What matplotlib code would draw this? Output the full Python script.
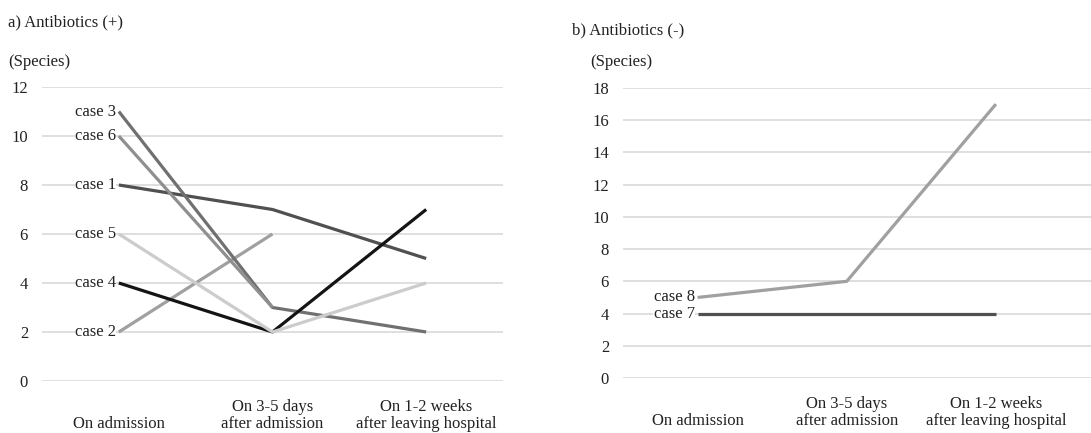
import numpy as np
import matplotlib.pyplot as plt

plt.rcParams['font.family'] = ['Liberation Serif', 'DejaVu Serif']

# categories / tick labels
stages = ['\nOn admission', 'On 3-5 days\nafter admission', 'On 1-2 weeks\nafter leaving hospital']

# a) Antibiotics (+)  -- species counts per stage (nan = not measured)
case1 = [8, 7, 5]
case2 = [2, 6, np.nan]
case3 = [11, 3, 2]
case4 = [4, 2, 7]
case5 = [6, 2, 4]
case6 = [10, 3, np.nan]

# b) Antibiotics (-)
case7 = [4, 4, 4]
case8 = [5, 6, 17]

left_cases = [('case 1', case1, '#505050'),
              ('case 2', case2, '#a0a0a0'),
              ('case 3', case3, '#707070'),
              ('case 4', case4, '#141414'),
              ('case 5', case5, '#cccccc'),
              ('case 6', case6, '#8f8f8f')]
right_cases = [('case 7', case7, '#505050'),
               ('case 8', case8, '#a0a0a0')]

FS = 12

fig = plt.figure(figsize=(10.91, 4.33), dpi=100)
ax1 = fig.add_axes([42/1091, 1-381/433, 461/1091, 294/433])
ax2 = fig.add_axes([623/1091, 1-378/433, 468/1091, 290/433])


def style_axis(ax, ymax, step, xr):
    x = np.arange(len(stages))
    ax.set_xticks(x)
    ax.set_xticklabels(stages, fontsize=FS, multialignment='center', linespacing=1.05)
    ax.set_xlim(-0.5, xr)
    ax.set_ylim(0, ymax)
    ax.set_yticks(np.arange(0, ymax + 1, step))
    ax.tick_params(axis='both', length=0, labelsize=FS, colors='#222222')
    ax.tick_params(axis='y', pad=10)
    ax.tick_params(axis='x', pad=13)
    for s in ax.spines.values():
        s.set_visible(False)
    ax.grid(axis='y', color='#d9d9d9', linewidth=1.2)
    ax.set_axisbelow(True)
    ax.patch.set_alpha(0)


def draw_cases(ax, cases):
    x = np.arange(len(stages))
    for name, vals, col in cases:
        ax.plot(x, vals, color=col, linewidth=2.3, solid_capstyle='butt', zorder=3)
        ax.annotate(name, (0, vals[0]), xytext=(-2, 0), textcoords='offset points',
                    ha='right', va='center', fontsize=FS, color='#222222',
                    bbox=dict(facecolor='white', edgecolor='none', pad=0.3))


style_axis(ax1, 12, 2, 2.5)
draw_cases(ax1, left_cases)
style_axis(ax2, 18, 2, 2 + 95/149)
draw_cases(ax2, right_cases)

fig.text(8/1091, 1-22/433, 'a) Antibiotics (+)', fontsize=FS, va='center', color='#222222')
fig.text(8/1091, 1-62/433, '(Species)', fontsize=FS, va='center', color='#222222')
fig.text(572/1091, 1-30/433, 'b) Antibiotics (-)', fontsize=FS, va='center', color='#222222')
fig.text(590/1091, 1-62/433, '(Species)', fontsize=FS, va='center', color='#222222')

plt.savefig('out.png', dpi=100)
